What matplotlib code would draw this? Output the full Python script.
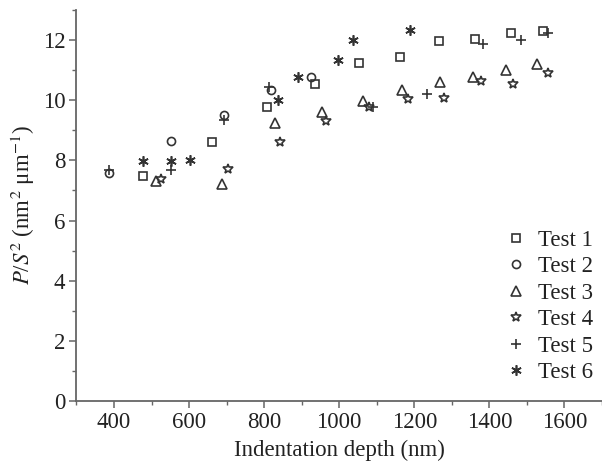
import matplotlib
matplotlib.use("Agg")
import matplotlib.pyplot as plt
from matplotlib.ticker import MultipleLocator

plt.rcParams['font.family'] = ['Liberation Serif', 'DejaVu Serif']
plt.rcParams['mathtext.fontset'] = 'stix'

t1_x = [478, 660, 807, 936, 1053, 1162, 1266, 1363, 1457, 1544]
t1_y = [7.47, 8.61, 9.77, 10.54, 11.25, 11.45, 11.96, 12.03, 12.25, 12.30]
t2_x = [386, 553, 693, 817, 925]
t2_y = [7.59, 8.66, 9.52, 10.34, 10.76]
t3_x = [513, 688, 829, 955, 1064, 1167, 1268, 1357, 1445, 1528]
t3_y = [7.30, 7.22, 9.23, 9.62, 9.98, 10.35, 10.62, 10.76, 11.02, 11.22]
t4_x = [524, 703, 842, 965, 1079, 1183, 1280, 1377, 1464, 1555]
t4_y = [7.39, 7.72, 8.60, 9.30, 9.76, 10.05, 10.09, 10.65, 10.54, 10.89]
t5_x = [386, 551, 692, 813, 1089, 1233, 1384, 1485, 1555]
t5_y = [7.68, 7.68, 9.34, 10.45, 9.78, 10.20, 11.88, 12.00, 12.23]
t6_x = [477, 553, 602, 836, 890, 998, 1036, 1189]
t6_y = [7.98, 7.99, 8.02, 10.00, 10.78, 11.34, 12.00, 12.33]

labels = ['Test 1', 'Test 2', 'Test 3', 'Test 4', 'Test 5', 'Test 6']

fig = plt.figure(figsize=(6.02, 4.69), dpi=100)
ax = fig.add_axes([0.127, 0.145, 0.873, 0.8337])

c = '#333333'
common = dict(linestyle='none', color=c, markerfacecolor='none', markeredgecolor=c, markeredgewidth=1.2)
ax.plot(t1_x, t1_y, marker='s', markersize=5.3, label=labels[0], **common)
ax.plot(t2_x, t2_y, marker='o', markersize=5.8, label=labels[1], **common)
ax.plot(t3_x, t3_y, marker='^', markersize=7.2, label=labels[2], **common)
ax.plot(t4_x, t4_y, marker='*', markersize=7.2, label=labels[3], **common)
ax.plot(t5_x, t5_y, marker='+', markersize=7.5, label=labels[4], **common)
ax.plot(t6_x, t6_y, marker=(6, 2, 0), markersize=7.5, label=labels[5], **common)

ax.set_xlim(300, 1700)
ax.set_ylim(0, 13)
ax.xaxis.set_major_locator(MultipleLocator(200))
ax.xaxis.set_minor_locator(MultipleLocator(100))
ax.yaxis.set_major_locator(MultipleLocator(2))
ax.yaxis.set_minor_locator(MultipleLocator(1))
ax.set_xticks([400, 600, 800, 1000, 1200, 1400, 1600])

for s in ['top', 'right']:
    ax.spines[s].set_visible(False)
for s in ['left', 'bottom']:
    ax.spines[s].set_color('#666666')
    ax.spines[s].set_linewidth(1.3)
ax.tick_params(which='major', direction='out', length=5, width=1.1, color='#666666',
               labelsize=16.5, labelcolor='#222222', pad=3)
ax.tick_params(which='minor', direction='out', length=3, width=1.0, color='#666666')

ax.set_xlabel('Indentation depth (nm)', fontsize=16.5, color='#222222', labelpad=5)
ax.set_ylabel('$P$/$S^2$ (nm$^2$ μm$^{-1}$)', fontsize=16.5, color='#222222', labelpad=4)

leg = ax.legend(loc='lower right', bbox_to_anchor=(1.014, 0.004), frameon=False, fontsize=16.5,
                handlelength=1.0, handletextpad=0.45, labelspacing=0.24, borderpad=0.2)
for t in leg.get_texts():
    t.set_color('#222222')

fig.savefig('out.png', dpi=100)
